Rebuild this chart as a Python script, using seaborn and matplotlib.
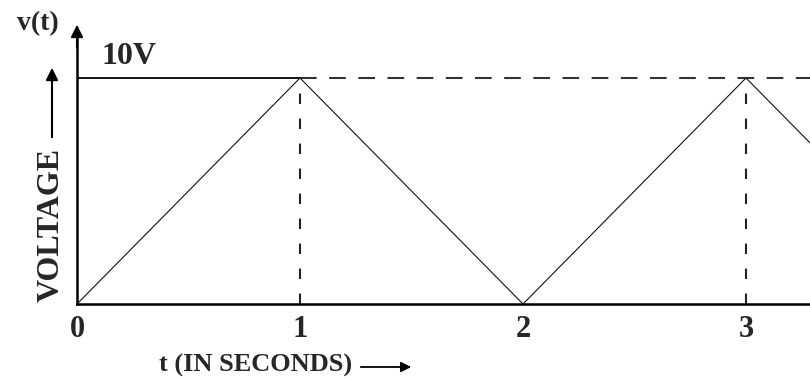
import matplotlib
matplotlib.use("Agg")
import matplotlib.pyplot as plt
import seaborn as sns
import pandas as pd

# data
t_values = [0, 1, 2, 3, 4]
v_values = [0, 10, 0, 10, 0]
peak_times = [1, 3]
peak_voltage = 10
tick_positions = [0, 1, 2, 3]
tick_labels = ["0", "1", "2", "3"]

sns.set_theme(style="white")
plt.rcParams['font.family'] = ['Liberation Serif', 'DejaVu Serif']

W, H = 810, 378
fig = plt.figure(figsize=(W / 100, H / 100), dpi=100)
x0, x_axis_y, top_y = 77, 304, 22
px_per_s = 223.0
y10 = 78
ax = fig.add_axes([x0 / W, (H - x_axis_y) / H, (W - x0) / W, (x_axis_y - top_y) / H])
xmax = (W - x0) / px_per_s
ymax = peak_voltage * (x_axis_y - top_y) / (x_axis_y - y10)
ax.set_xlim(0, xmax)
ax.set_ylim(0, ymax)

df = pd.DataFrame({"t": t_values, "v": v_values})
sns.lineplot(data=df, x="t", y="v", ax=ax, color="#111111", linewidth=0.8)

# 10V reference line: solid to first peak, dashed afterwards
ax.plot([0, peak_times[0]], [peak_voltage, peak_voltage], color="black", lw=1.3)
ax.plot([peak_times[0], xmax], [peak_voltage, peak_voltage], color="#333333", lw=1.5,
        dashes=(8, 6))
for pt in peak_times:
    ax.plot([pt, pt], [0, peak_voltage], color="#222222", lw=1.5, dashes=(5, 7))

for s in ["top", "right"]:
    ax.spines[s].set_visible(False)
for s in ["left", "bottom"]:
    ax.spines[s].set_color("black")
    ax.spines[s].set_linewidth(1.8)
ax.spines["left"].set_bounds(0, ymax * 0.97)

ax.set_xticks(tick_positions)
ax.set_xticklabels(tick_labels, fontsize=22, fontweight="bold")
ax.set_yticks([])
ax.tick_params(axis="x", length=0, pad=8)
ax.set_xlabel("")
ax.set_ylabel("")

# y-axis arrow head
ax.annotate("", xy=(0, ymax), xytext=(0, ymax * 0.9),
            arrowprops=dict(arrowstyle="-|>", color="black", lw=1.5, mutation_scale=18),
            annotation_clip=False)

# text
fig.text(38 / W, 1 - 24 / H, "v(t)", fontsize=20, fontweight="bold", ha="center", va="center")
ax.text(0.11, peak_voltage + 0.3, "10V", fontsize=23, fontweight="bold", ha="left", va="bottom")
fig.text(51 / W, 1 - 225 / H, "VOLTAGE", fontsize=23, fontweight="bold", rotation=90,
         ha="center", va="center")
fig.patches.append(matplotlib.patches.FancyArrowPatch(
    (52 / W, 1 - 140 / H), (52 / W, 1 - 65 / H), transform=fig.transFigure,
    arrowstyle="-|>", mutation_scale=18, color="black", lw=1.5))
fig.text(256 / W, 1 - 365 / H, "t (IN SECONDS)", fontsize=19, fontweight="bold",
         ha="center", va="center")
fig.patches.append(matplotlib.patches.FancyArrowPatch(
    (358 / W, 1 - 367 / H), (414 / W, 1 - 367 / H), transform=fig.transFigure,
    arrowstyle="-|>", mutation_scale=15, color="black", lw=1.3))

fig.savefig("out.png", dpi=100)
